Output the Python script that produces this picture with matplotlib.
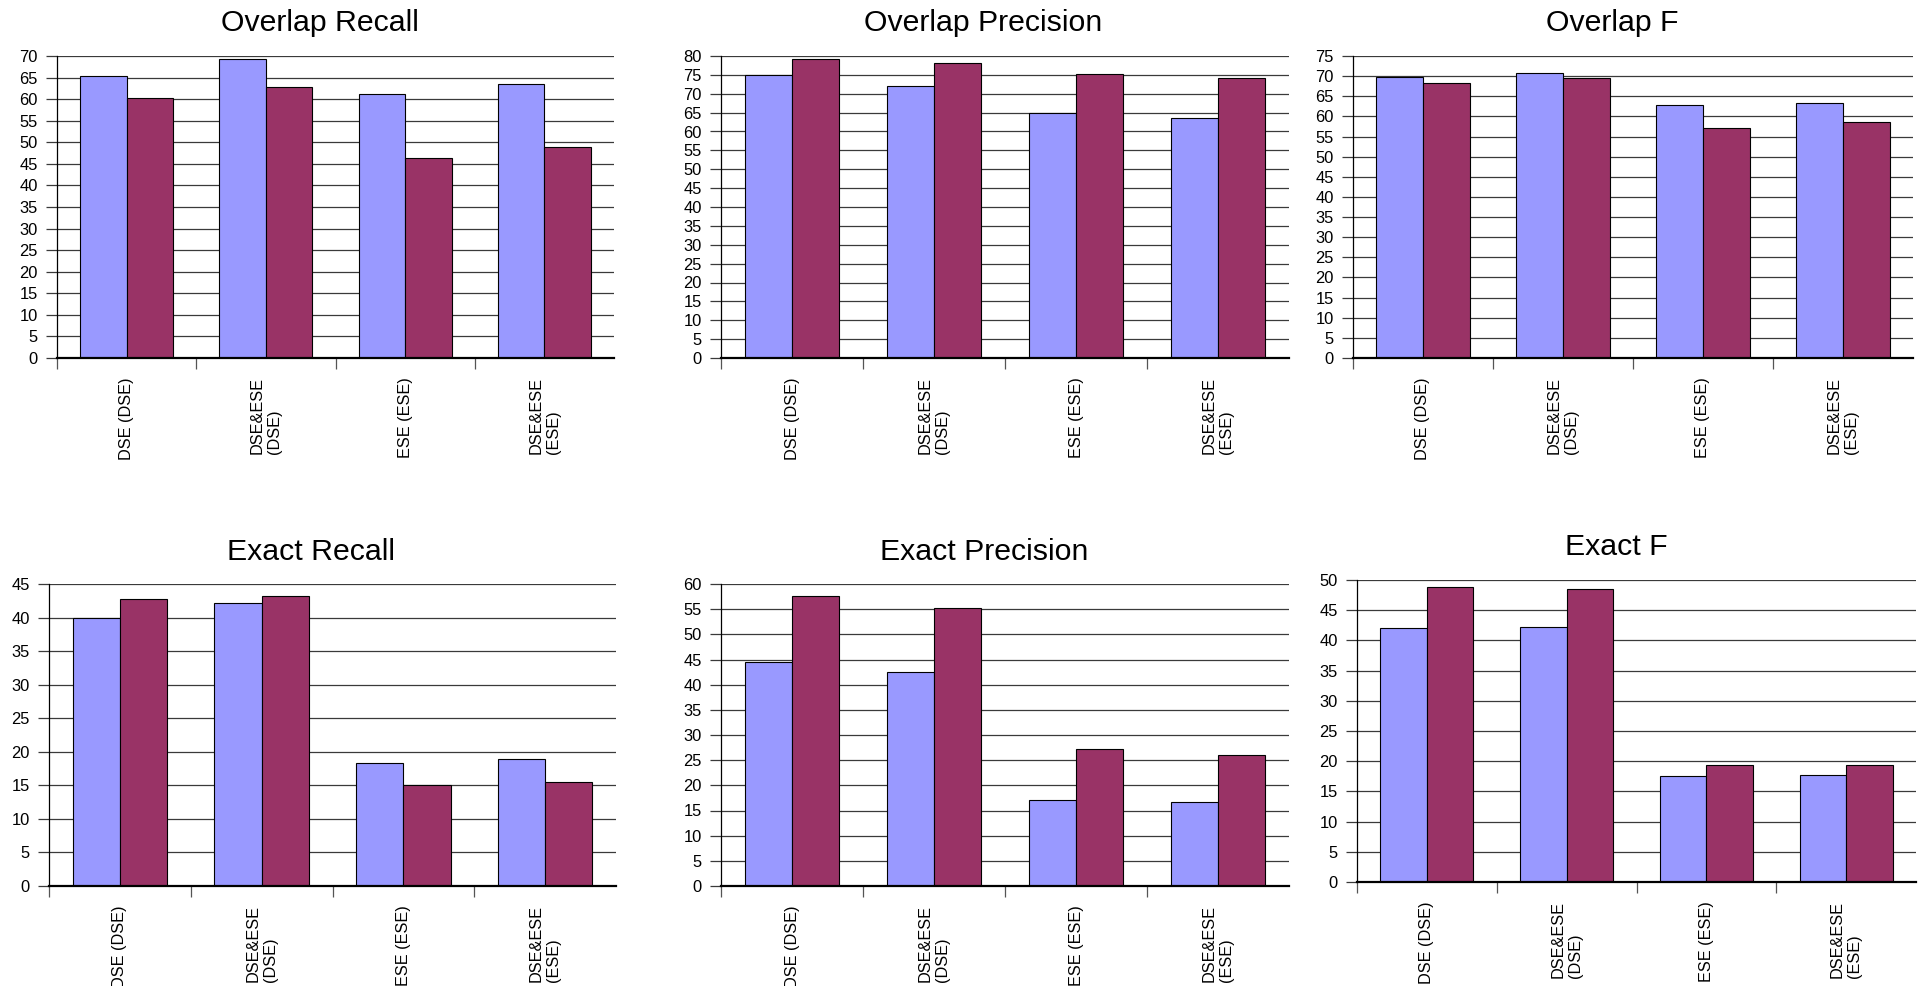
import matplotlib
matplotlib.use("Agg")
import matplotlib.pyplot as plt
import numpy as np

plt.rcParams["font.family"] = ["Liberation Sans", "DejaVu Sans"]

# Categories shared by every panel
categories = ["DSE (DSE)", "DSE&ESE\n(DSE)", "ESE (ESE)", "DSE&ESE\n(ESE)"]

# Panel titles and y-axis maxima
titles = ["Overlap Recall", "Overlap Precision", "Overlap F",
          "Exact Recall", "Exact Precision", "Exact F"]
y_max = [70, 80, 75, 45, 60, 50]

# Scores for the two systems (first series, second series)
overlap_recall_a = [65.4, 69.2, 61.3, 63.4]
overlap_recall_b = [60.2, 62.7, 46.3, 48.9]
overlap_precision_a = [74.9, 72.1, 64.8, 63.7]
overlap_precision_b = [79.3, 78.1, 75.2, 74.1]
overlap_f_a = [69.8, 70.7, 62.8, 63.4]
overlap_f_b = [68.4, 69.5, 57.2, 58.7]
exact_recall_a = [40.0, 42.1, 18.3, 18.9]
exact_recall_b = [42.7, 43.2, 15.1, 15.5]
exact_precision_a = [44.5, 42.6, 17.0, 16.7]
exact_precision_b = [57.6, 55.3, 27.2, 26.1]
exact_f_a = [42.0, 42.3, 17.5, 17.7]
exact_f_b = [48.9, 48.5, 19.3, 19.3]

series_a = [overlap_recall_a, overlap_precision_a, overlap_f_a,
            exact_recall_a, exact_precision_a, exact_f_a]
series_b = [overlap_recall_b, overlap_precision_b, overlap_f_b,
            exact_recall_b, exact_precision_b, exact_f_b]

COLOR_A = "#9999FF"
COLOR_B = "#993366"
GRID = "#3a3a3a"

W, H = 1929, 986
fig = plt.figure(figsize=(W / 100, H / 100), dpi=100)
fig.patch.set_facecolor("white")

# axes boxes in pixels: (left, right, top, bottom)
boxes = [
    (57, 614, 56, 358),
    (721, 1289, 56, 358),
    (1353, 1913, 56, 358),
    (49, 616, 584, 886),
    (721, 1289, 584, 886),
    (1357, 1916, 580, 882),
]
# title anchor (center x, baseline y) in pixels
title_pos = [
    (320, 31), (983, 31), (1612, 31),
    (311, 560), (984, 560), (1616, 555),
]

x = np.arange(len(categories))
bw = 1 / 3

for i in range(6):
    l, r, t, b = boxes[i]
    ax = fig.add_axes([l / W, 1 - b / H, (r - l) / W, (b - t) / H])
    ax.set_axisbelow(True)
    ax.bar(x - bw / 2, series_a[i], width=bw, color=COLOR_A,
           edgecolor="black", linewidth=0.8, zorder=3)
    ax.bar(x + bw / 2, series_b[i], width=bw, color=COLOR_B,
           edgecolor="black", linewidth=0.8, zorder=3)

    ax.set_xlim(-0.5, len(categories) - 0.5)
    ax.set_ylim(0, y_max[i])
    yt = np.arange(0, y_max[i] + 1, 5)
    ax.set_yticks(yt)
    ax.set_yticklabels([str(v) for v in yt])
    for v in yt[1:]:
        ax.axhline(v, color=GRID, linewidth=0.9, zorder=1)

    # boundary ticks between categories, labels centred on categories
    ax.set_xticks(np.arange(-0.5, len(categories) - 0.5, 1.0))
    ax.set_xticklabels([])
    ax.set_xticks(x, minor=True)
    ax.set_xticklabels(categories, minor=True, rotation=90,
                       va="top", ha="center", fontsize=11.7)
    for lab in ax.get_xticklabels(minor=True):
        lab.set_multialignment("left")
    ax.tick_params(axis="x", which="major", length=8, width=0.9,
                   color="#555555", direction="out")
    ax.tick_params(axis="x", which="minor", length=0, pad=13.7)
    ax.tick_params(axis="y", which="major", length=8, width=0.9,
                   color=GRID, direction="out", pad=6, labelsize=11.9)

    for s in ("top", "right"):
        ax.spines[s].set_visible(False)
    ax.spines["left"].set_color("black")
    ax.spines["left"].set_linewidth(0.9)
    ax.spines["bottom"].set_color("black")
    ax.spines["bottom"].set_linewidth(1.6)
    ax.spines["bottom"].set_zorder(4)

    tx, ty = title_pos[i]
    fig.text(tx / W, 1 - ty / H, titles[i], ha="center", va="baseline",
             fontsize=21.8)

fig.savefig("out.png", dpi=100, facecolor="white")
